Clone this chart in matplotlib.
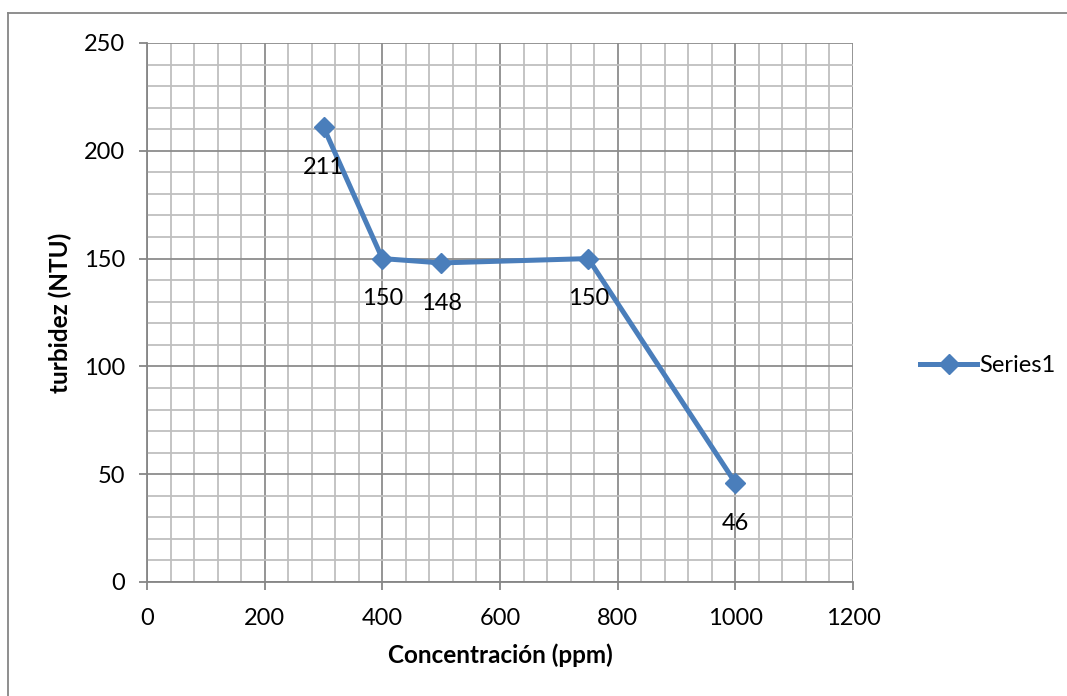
import numpy as np
import matplotlib.pyplot as plt
from matplotlib.ticker import MultipleLocator
from matplotlib.lines import Line2D

# data
concentracion = [300, 400, 500, 750, 1000]
turbidez = [211, 150, 148, 150, 46]
serie = 'Series1'

plt.rcParams['font.family'] = ['Lato', 'DejaVu Sans']
blue = '#4A7EBB'

fig = plt.figure(figsize=(10.67, 6.96), dpi=100)
ax = fig.add_axes([147 / 1067, 1 - 582 / 696, (853 - 147) / 1067, (582 - 43) / 696])

ax.plot(concentracion, turbidez, color=blue, lw=3.6, marker='D', ms=10,
        mfc=blue, mec=blue, zorder=5, clip_on=False)

for x, y in zip(concentracion, turbidez):
    ax.annotate(str(y), (x, y), xytext=(0, -29), textcoords='offset points',
                ha='center', va='center', fontsize=17, color='black', zorder=6)

ax.set_xlim(0, 1200)
ax.set_ylim(0, 250)
ax.xaxis.set_major_locator(MultipleLocator(200))
ax.xaxis.set_minor_locator(MultipleLocator(40))
ax.yaxis.set_major_locator(MultipleLocator(50))
ax.yaxis.set_minor_locator(MultipleLocator(10))

ax.grid(which='minor', color='#BFBFBF', lw=1.3)
ax.grid(which='major', color='#8C8C8C', lw=1.3)
ax.set_axisbelow(True)

for s in ['top', 'right']:
    ax.spines[s].set_visible(False)
for s in ['left', 'bottom']:
    ax.spines[s].set_color('#868686')
    ax.spines[s].set_linewidth(1.3)

ax.tick_params(which='major', direction='out', length=6, width=1.3,
               color='#868686', labelsize=17)
ax.tick_params(axis='x', which='major', pad=13)
ax.tick_params(axis='y', which='major', pad=10)
ax.tick_params(which='minor', length=0)

ax.set_xlabel('Concentración (ppm)', fontsize=17.5, fontweight='bold', labelpad=10)
ax.set_ylabel('turbidez (NTU)', fontsize=17.5, fontweight='bold')
ax.yaxis.set_label_coords(-0.106, 0.5)

handle = Line2D([], [], color=blue, lw=3.6, marker='D', ms=10, mfc=blue, mec=blue)
fig.legend([handle], [serie], loc='center left', bbox_to_anchor=(899 / 1067, 1 - 366 / 696),
           frameon=False, fontsize=17, handlelength=2.4, handletextpad=0.1)

# outer chart border (Excel chart area)
fig.add_artist(Line2D([8 / 1067, 8 / 1067], [0, 1 - 13 / 696], color='#868686', lw=1.3))
fig.add_artist(Line2D([8 / 1067, 1], [1 - 13 / 696, 1 - 13 / 696], color='#868686', lw=1.3))

fig.savefig('out.png', dpi=100)
